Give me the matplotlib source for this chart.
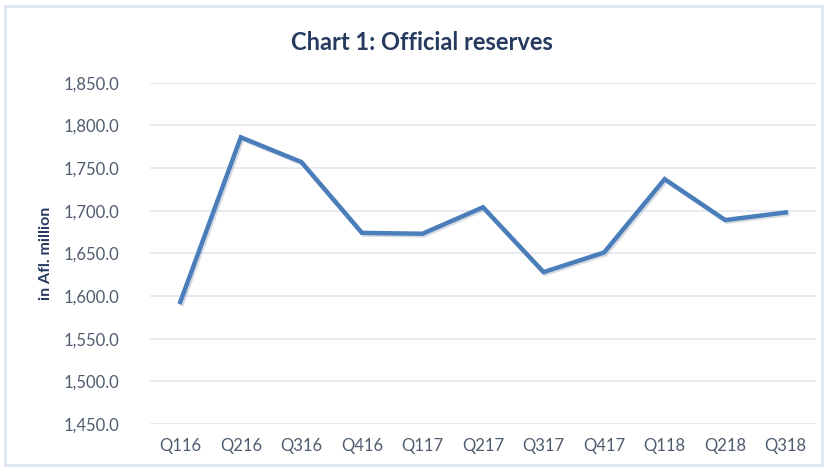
import matplotlib
matplotlib.use("Agg")
import matplotlib.pyplot as plt
import matplotlib.patheffects as pe
from matplotlib.patches import Rectangle
from matplotlib.ticker import FuncFormatter

quarters = ["Q116", "Q216", "Q316", "Q416", "Q117", "Q217", "Q317", "Q417", "Q118", "Q218", "Q318"]
reserves = [1593, 1786, 1757, 1674, 1673, 1704, 1628, 1651, 1737, 1689, 1698]
y_ticks = [1450, 1500, 1550, 1600, 1650, 1700, 1750, 1800, 1850]

plt.rcParams['font.family'] = ['Lato', 'DejaVu Sans']

fig = plt.figure(figsize=(8.28, 4.70), dpi=100)
fig.patch.set_facecolor('white')

# light border around chart
fig.patches.append(Rectangle((5/828, 5/470), 1 - 11/828, 1 - 11/470, transform=fig.transFigure,
                             fill=False, edgecolor='#DCE6F2', linewidth=2))

ax = fig.add_axes([150/828, 1 - 424/470, (816 - 150)/828, (424 - 82.7)/470])
x = list(range(len(quarters)))
ax.plot(x, reserves, color='#4A7EBB', linewidth=3.2, solid_joinstyle='miter',
        path_effects=[pe.SimpleLineShadow(offset=(1.2, -1.2), shadow_color='#9aa7b8', alpha=0.4),
                      pe.Normal()], zorder=3)

ax.set_xlim(-0.5, len(quarters) - 0.5)
ax.set_ylim(1450, 1850)
ax.set_yticks(y_ticks)
ax.yaxis.set_major_formatter(FuncFormatter(lambda v, p: f"{v:,.1f}"))
ax.set_xticks(x)
ax.set_xticklabels(quarters)
ax.grid(axis='y', color='#E3E8EF', linewidth=1.2)
ax.set_axisbelow(True)
for s in ax.spines.values():
    s.set_visible(False)
ax.tick_params(axis='both', length=0, labelsize=12, labelcolor='#4F5B6E')
ax.tick_params(axis='y', pad=22)
ax.tick_params(axis='x', pad=10)

ax.set_ylabel('in Afl. million', fontsize=11.5, fontweight='bold', color='#253A5E', labelpad=8)

fig.text(422/828, 1 - 42/470, 'Chart 1: Official reserves', ha='center', va='center',
         fontsize=17, fontweight='bold', color='#253A5E')

fig.savefig('out.png', dpi=100)
